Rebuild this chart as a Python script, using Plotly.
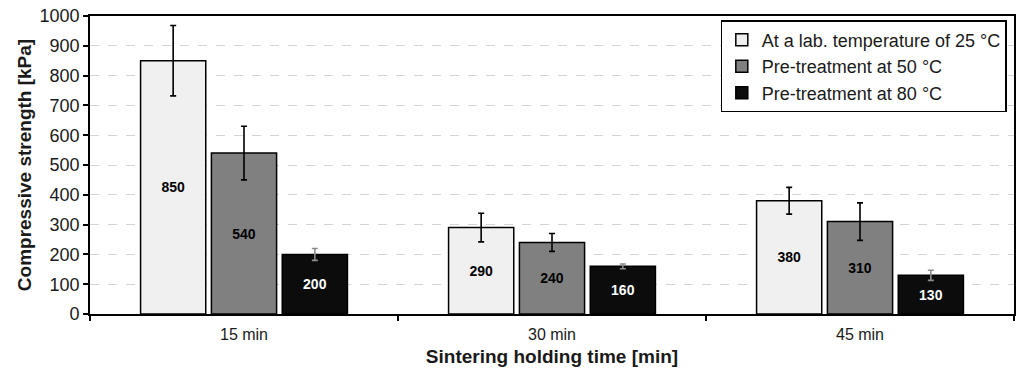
import plotly.graph_objects as go

categories = ["15 min", "30 min", "45 min"]
series_names = ["At a lab. temperature of 25 °C", "Pre-treatment at 50 °C", "Pre-treatment at 80 °C"]
values_25 = [850, 290, 380]
values_50 = [540, 240, 310]
values_80 = [200, 160, 130]
err_25 = [118, 48, 45]
err_50 = [90, 30, 63]
err_80 = [20, 8, 17]
y_ticks = [0, 100, 200, 300, 400, 500, 600, 700, 800, 900, 1000]

fills = ["#f0f0f0", "#808080", "#0c0c0c"]
err_colors = ["#000000", "#000000", "#8c8c8c"]
text_colors = ["#000000", "#000000", "#ffffff"]

fig = go.Figure()
for name, vals, errs, fc, ec, tc in zip(series_names, [values_25, values_50, values_80],
                                        [err_25, err_50, err_80], fills, err_colors, text_colors):
    fig.add_trace(go.Bar(
        x=categories, y=vals, name=name,
        marker=dict(color=fc, line=dict(color="#000000", width=1.5)),
        error_y=dict(type="data", array=errs, visible=True, color=ec, thickness=1.6, width=3),
        text=[str(v) for v in vals], textposition="inside", insidetextanchor="middle",
        textangle=0, constraintext="none",
        textfont=dict(family="Liberation Sans, Arial", size=14, color=tc, weight="bold"),
    ))

fig.update_layout(
    width=1016, height=373,
    margin=dict(l=90, r=2, t=16, b=59, autoexpand=False),
    paper_bgcolor="white", plot_bgcolor="white",
    barmode="group", bargap=0.31, bargroupgap=0.08,
    font=dict(family="Liberation Sans, Arial", size=16, color="#1a1a1a"),
    showlegend=True,
    legend=dict(x=0.992, y=0.985, xanchor="right", yanchor="top",
                bgcolor="white", bordercolor="#000000", borderwidth=1.2,
                font=dict(size=18, color="#1a1a1a"), traceorder="normal",
                itemwidth=30),
)
fig.update_xaxes(
    type="category", showline=True, linecolor="#000000", linewidth=1.8, mirror=True,
    ticks="outside", tickson="boundaries", ticklen=5, tickcolor="#000000", tickwidth=1.5,
    showgrid=False, automargin=False, ticklabelstandoff=5,
    tickfont=dict(size=16),
    title=dict(text="<b>Sintering holding time [min]</b>", font=dict(size=19, color="#1a1a1a"), standoff=8),
)
fig.update_yaxes(
    range=[0, 1000], tickvals=y_ticks, showline=True, linecolor="#000000", linewidth=1.8, mirror=True,
    ticks="outside", ticklen=5, tickcolor="#000000", tickwidth=1.5,
    showgrid=True, gridcolor="#d4d4d4", griddash="dash", gridwidth=1,
    zeroline=False, automargin=False,
    tickfont=dict(size=18),
    title=dict(text="<b>Compressive strength [kPa]</b>", font=dict(size=19, color="#1a1a1a"), standoff=3),
)

fig.write_html("out.html", config={"displayModeBar": False},
               post_script="document.body.style.margin='0';document.body.style.overflow='hidden';")
